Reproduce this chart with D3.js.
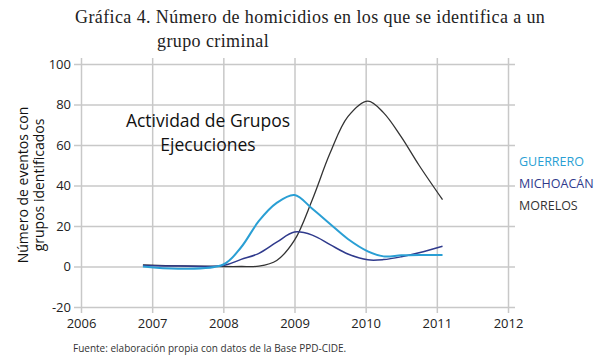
<!DOCTYPE html>
<html>
<head>
<meta charset="utf-8">
<script src="https://cdn.jsdelivr.net/npm/d3@7"></script>
<style>
  body { margin: 0; background: #fff; }
  .grid line { stroke: #c8c8c8; stroke-width: 1.5; }
  .grid path { display: none; }
  .axis path, .axis line { display: none; }
  .axis text { font-family: "Open Sans", sans-serif; font-size: 13px; fill: #222; }
</style>
</head>
<body>
<div id="chart"></div>
<script>
// data
var years = [2006.87, 2007.4, 2008.0, 2008.25, 2008.5, 2008.75, 2009.0, 2009.25, 2009.5, 2009.75, 2010.03, 2010.25, 2010.5, 2010.75, 2011.08];
var guerrero  = [0, -1.1, 1, 9.5, 22.5, 31.4, 35.3, 28.5, 21, 13.6, 7.5, 5, 5.5, 5.7, 5.7];
var michoacan = [0.5, 0.2, 0.5, 3.5, 6.5, 12, 17, 15.5, 10.8, 6.2, 3.3, 3.4, 4.8, 6.8, 10];
var morelos   = [0.8, 0.3, 0, 0, 0.2, 3, 13, 33, 56, 74, 81.7, 76, 64, 50, 33];
var xTicks = [2006, 2007, 2008, 2009, 2010, 2011, 2012];
var yTicks = [-20, 0, 20, 40, 60, 80, 100];
var seriesNames = ["GUERRERO", "MICHOACÁN", "MORELOS"];
var seriesColors = ["#2a9fd4", "#2f3a8c", "#333333"];

var W = 606, H = 362;
var margin = { top: 64, right: 98, bottom: 55, left: 81 },
    width = W - margin.left - margin.right,
    height = H - margin.top - margin.bottom;

var root = d3.select("#chart").append("svg")
    .attr("width", W)
    .attr("height", H);

var svg = root.append("g")
    .attr("transform", "translate(" + margin.left + "," + margin.top + ")");

var x = d3.scaleLinear().domain([2006, 2012]).range([0, width]);
var y = d3.scaleLinear().domain([-20, 100]).range([height, 0]);

// gridlines (extend a bit outside as ticks)
svg.append("g")
    .attr("class", "grid")
    .attr("transform", "translate(0," + height + ")")
    .call(d3.axisBottom(x).tickValues(xTicks).tickSize(-height - 6).tickSizeOuter(0).tickFormat(""))
    .selectAll("line").attr("y1", 6);

svg.append("g")
    .attr("class", "grid")
    .call(d3.axisLeft(y).tickValues(yTicks).tickSize(-width - 7).tickFormat(""))
    .selectAll("line").attr("x1", -7);

// axis labels
svg.append("g")
    .attr("class", "axis")
    .attr("transform", "translate(0," + height + ")")
    .call(d3.axisBottom(x).tickValues(xTicks).tickSize(0).tickPadding(12).tickFormat(d3.format("d")));

svg.append("g")
    .attr("class", "axis")
    .call(d3.axisLeft(y).tickValues(yTicks).tickSize(0).tickPadding(10)
        .tickFormat(function(d) { return String(d); }));

// lines
var allSeries = [guerrero, michoacan, morelos];
var widths = [2, 1.5, 1.3];
var line = d3.line()
    .x(function(d, i) { return x(years[i]); })
    .y(function(d) { return y(d); })
    .curve(d3.curveCatmullRom.alpha(0.5));

// draw morelos first so the blue lines sit on top
[2, 1, 0].forEach(function(k) {
    svg.append("path")
        .datum(allSeries[k])
        .attr("fill", "none")
        .attr("stroke", seriesColors[k])
        .attr("stroke-width", widths[k])
        .attr("d", line);
});

// annotation
var ann = svg.append("text")
    .attr("text-anchor", "middle")
    .attr("font-family", "'Open Sans', sans-serif")
    .attr("font-size", 17.5)
    .attr("fill", "#111");
ann.append("tspan").attr("x", 127).attr("y", 63).text("Actividad de Grupos");
ann.append("tspan").attr("x", 127).attr("y", 87).text("Ejecuciones");

// legend
seriesNames.forEach(function(n, i) {
    root.append("text")
        .attr("x", 519)
        .attr("y", 166 + i * 22)
        .attr("font-family", "'Open Sans', sans-serif")
        .attr("font-size", 12.5)
        .attr("fill", seriesColors[i])
        .text(n);
});

// y title
var yt = root.append("text")
    .attr("transform", "translate(28,185) rotate(-90)")
    .attr("text-anchor", "middle")
    .attr("font-family", "'Open Sans', sans-serif")
    .attr("font-size", 14)
    .attr("fill", "#111");
yt.append("tspan").attr("x", 0).attr("y", 0).text("Número de eventos con");
yt.append("tspan").attr("x", 0).attr("y", 16).text("grupos identificados");

// title
root.append("text")
    .attr("x", 75).attr("y", 23)
    .attr("font-family", "'Liberation Serif', serif")
    .attr("font-size", 18)
    .attr("letter-spacing", 0.4)
    .attr("fill", "#222")
    .text("Gráfica 4. Número de homicidios en los que se identifica a un");
root.append("text")
    .attr("x", 157).attr("y", 47)
    .attr("font-family", "'Liberation Serif', serif")
    .attr("font-size", 18)
    .attr("letter-spacing", 0.4)
    .attr("fill", "#222")
    .text("grupo criminal");

// source
root.append("text")
    .attr("x", 73).attr("y", 352)
    .attr("font-family", "'Open Sans', sans-serif")
    .attr("font-size", 10)
    .attr("fill", "#333")
    .text("Fuente: elaboración propia con datos de la Base PPD-CIDE.");
</script>
</body>
</html>
